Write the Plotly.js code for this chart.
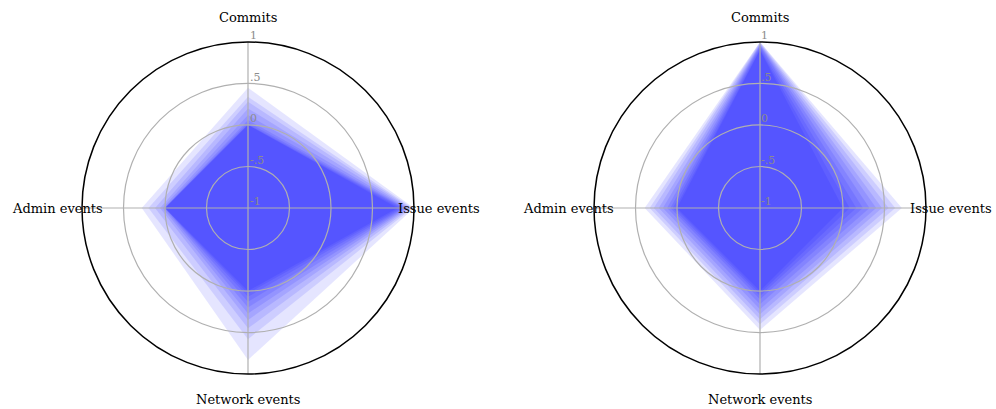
<!DOCTYPE html>
<html>
<head>
<meta charset="utf-8">
<script src="https://cdn.plot.ly/plotly-3.0.1.min.js"></script>
<style>html,body{margin:0;padding:0;background:#fff;}#chart{width:996px;height:409px;}</style>
</head>
<body>
<div id="chart"></div>
<script>
const categories = ["Commits", "Issue events", "Network events", "Admin events"];
const radialTickVals = [-1, -0.5, 0, 0.5, 1];
const radialTickText = ["-1", "-.5", "0", ".5", "1"];

// Left radar: 10 layers per axis
const commitsLeft = [0.45, 0.34, 0.28, 0.20, 0.12, 0.06, 0.03, 0.01, 0.0, 0.0];
const issueLeft   = [1.00, 0.98, 0.96, 0.94, 0.92, 0.90, 0.88, 0.86, 0.83, 0.80];
const networkLeft = [0.83, 0.58, 0.45, 0.35, 0.27, 0.20, 0.13, 0.07, 0.03, 0.0];
const adminLeft   = [0.28, 0.20, 0.12, 0.06, 0.03, 0.01, 0.0, 0.0, 0.0, 0.0];

// Right radar
const commitsRight = [1.00, 1.00, 0.99, 0.98, 0.97, 0.96, 0.95, 0.93, 0.91, 0.90];
const issueRight   = [0.71, 0.63, 0.55, 0.47, 0.40, 0.32, 0.24, 0.16, 0.08, 0.0];
const networkRight = [0.47, 0.40, 0.34, 0.28, 0.22, 0.16, 0.10, 0.06, 0.03, 0.0];
const adminRight   = [0.39, 0.33, 0.28, 0.22, 0.17, 0.12, 0.08, 0.05, 0.02, 0.0];

const W = 996, H = 409;
const fontFamily = "DejaVu Serif, serif";
const rRange = [-1, 1];
const traces = [];
function addLayers(c, i_, n, a, subplot) {
  for (let i = 0; i < c.length; i++) {
    traces.push({
      type: "scatterpolar",
      subplot: subplot,
      r: [c[i], i_[i], n[i], a[i], c[i]],
      theta: categories.concat([categories[0]]),
      mode: "lines",
      line: {width: 0, color: "rgba(0,0,255,0)"},
      fill: "toself",
      fillcolor: "rgba(0,0,255,0.1)",
      hoverinfo: "skip",
      showlegend: false
    });
  }
}
addLayers(commitsLeft, issueLeft, networkLeft, adminLeft, "polar");
addLayers(commitsRight, issueRight, networkRight, adminRight, "polar2");
// invisible carriers so the overlay (grid) subplots get the same categories
["polar3", "polar4"].forEach(sp => traces.push({
  type: "scatterpolar", subplot: sp,
  r: categories.map(() => -1), theta: categories,
  mode: "markers", marker: {opacity: 0, size: 1},
  hoverinfo: "skip", showlegend: false
}));

const domY = [35 / H, 367 / H];
const domX1 = [82 / W, 414 / W];
const domX2 = [594 / W, 926 / W];

function dataPolar(dx) {
  return {
    domain: {x: dx, y: domY},
    bgcolor: "rgba(0,0,0,0)",
    radialaxis: {range: rRange, visible: false, showgrid: false},
    angularaxis: {
      type: "category", categoryarray: categories,
      rotation: 90, direction: "clockwise",
      showticklabels: false, ticks: "", showline: false, showgrid: false
    }
  };
}
function gridPolar(dx) {
  return {
    domain: {x: dx, y: domY},
    bgcolor: "rgba(0,0,0,0)",
    radialaxis: {
      range: rRange,
      tickvals: radialTickVals,
      ticktext: radialTickText,
      angle: 90,
      showticklabels: false,
      showline: false,
      ticks: "",
      gridcolor: "#b0b0b0",
      gridwidth: 1.2
    },
    angularaxis: {
      type: "category",
      categoryarray: categories,
      rotation: 90,
      direction: "clockwise",
      showticklabels: false,
      ticks: "",
      linecolor: "#000",
      linewidth: 1.5,
      gridcolor: "#b0b0b0",
      gridwidth: 1.2
    }
  };
}

const annotations = [];
const labelR = 191;
[domX1, domX2].forEach(dx => {
  const cx = (dx[0] + dx[1]) / 2 * W;
  const cy = (domY[0] + domY[1]) / 2 * H;
  const R = (dx[1] - dx[0]) / 2 * W;
  // angular category labels, centered at ~1.15 x outer radius
  categories.forEach((cat, k) => {
    const ang = Math.PI / 2 - k * Math.PI / 2;
    annotations.push({
      xref: "paper", yref: "paper",
      x: (cx + labelR * Math.cos(ang)) / W,
      y: (cy + labelR * Math.sin(ang)) / H,
      text: cat, showarrow: false,
      xanchor: "center", yanchor: "middle",
      font: {family: fontFamily, size: 13, color: "#000"}
    });
  });
  // radial tick labels just right of the vertical spoke, slightly above each ring
  radialTickVals.forEach((v, k) => {
    const rp = (v - rRange[0]) / (rRange[1] - rRange[0]) * R;
    annotations.push({
      xref: "paper", yref: "paper",
      x: (cx + 0.5) / W,
      y: (cy + rp + 6.5) / H,
      text: radialTickText[k], showarrow: false,
      xanchor: "left", yanchor: "middle",
      borderpad: 0,
      font: {family: fontFamily, size: 11, color: "#8c8c8c"}
    });
  });
});

const layout = {
  width: W, height: H,
  margin: {l: 0, r: 0, t: 0, b: 0},
  paper_bgcolor: "#fff",
  showlegend: false,
  polar: dataPolar(domX1),
  polar2: dataPolar(domX2),
  polar3: gridPolar(domX1),
  polar4: gridPolar(domX2),
  annotations: annotations
};

Plotly.newPlot("chart", traces, layout, {displayModeBar: false, staticPlot: true});
</script>
</body>
</html>
